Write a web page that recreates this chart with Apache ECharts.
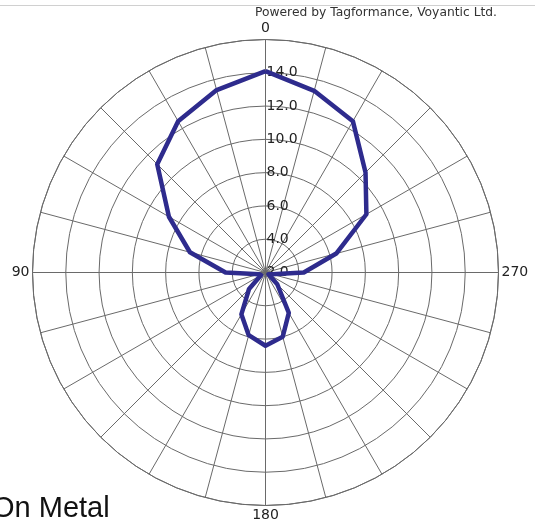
<!DOCTYPE html>
<html>
<head>
<meta charset="utf-8">
<script src="https://cdn.jsdelivr.net/npm/echarts@6/dist/echarts.min.js"></script>
<style>html,body{margin:0;padding:0;background:#fff;}#c{width:535px;height:524px;}</style>
</head>
<body>
<div id="c"></div>
<script>
// Angles in degrees (0 = top, increasing counter-clockwise)
var angles = [0, 15, 30, 45, 60, 75, 90, 105, 120, 135, 150, 165, 180, 195, 210, 225, 240, 255, 270, 285, 300, 315, 330, 345, 360];
// Read range values at each angle
var values = [14.1, 13.35, 12.5, 11.2, 8.7, 6.7, 4.4, 2.4, 2.3, 3.4, 4.9, 5.9, 6.4, 6.0, 4.8, 3.0, 2.2, 2.4, 4.3, 6.4, 9.0, 10.5, 12.5, 13.3, 14.1];
var angleLabels = [0, 90, 180, 270];
var radiusMin = 2, radiusMax = 16, radiusStep = 2;
var caption = "On Metal";
var credit = "Powered by Tagformance, Voyantic Ltd.";

var data = angles.map(function (a, i) { return [values[i], a]; });
var chart = echarts.init(document.getElementById('c'), null, {renderer: 'canvas'});
var gridColor = '#6a6a6a';
chart.setOption({
  backgroundColor: '#ffffff',
  animation: false,
  polar: { center: [265.5, 272.5], radius: 233 },
  angleAxis: {
    type: 'value', min: 0, max: 360, interval: 15,
    startAngle: 90, clockwise: false,
    axisLine: { show: true, lineStyle: { color: gridColor, width: 1 } },
    axisTick: { show: false },
    splitLine: { show: true, lineStyle: { color: gridColor, width: 1 } },
    axisLabel: {
      margin: 3,
      fontFamily: 'DejaVu Sans', fontSize: 14, color: '#222',
      formatter: function (v) {
        if (v === 0) return '{top|0}';
        return angleLabels.indexOf(v) >= 0 ? String(v) : '';
      },
      rich: { top: { fontFamily: 'DejaVu Sans', fontSize: 14, color: '#222', padding: [0, 0, 1, 0] } }
    }
  },
  radiusAxis: {
    type: 'value', min: radiusMin, max: radiusMax, interval: radiusStep,
    axisLine: { show: true, lineStyle: { color: gridColor, width: 1 } },
    axisTick: { show: false },
    splitLine: { show: true, lineStyle: { color: gridColor, width: 1 } },
    axisLabel: {
      align: 'left', margin: -1,
      showMaxLabel: false,
      fontFamily: 'DejaVu Sans', fontSize: 14, color: '#222',
      formatter: function (v) { return v.toFixed(1); }
    }
  },
  series: [{
    type: 'line', coordinateSystem: 'polar', data: data,
    symbol: 'none', smooth: false,
    lineStyle: { color: '#2e2b8d', width: 4.5, join: 'round' },
    z: 5
  }],
  graphic: [
    { type: 'line', shape: { x1: 0, y1: 5.5, x2: 535, y2: 5.5 }, style: { stroke: '#d0d0d0', lineWidth: 1 } },
    { type: 'text', left: 255, top: 7, style: { text: credit, font: '12.3px "DejaVu Sans"', fill: '#333' } },
    { type: 'text', left: -8, top: 494, style: { text: caption, font: '29px "Liberation Sans"', fill: '#111' } }
  ]
});
</script>
</body>
</html>
